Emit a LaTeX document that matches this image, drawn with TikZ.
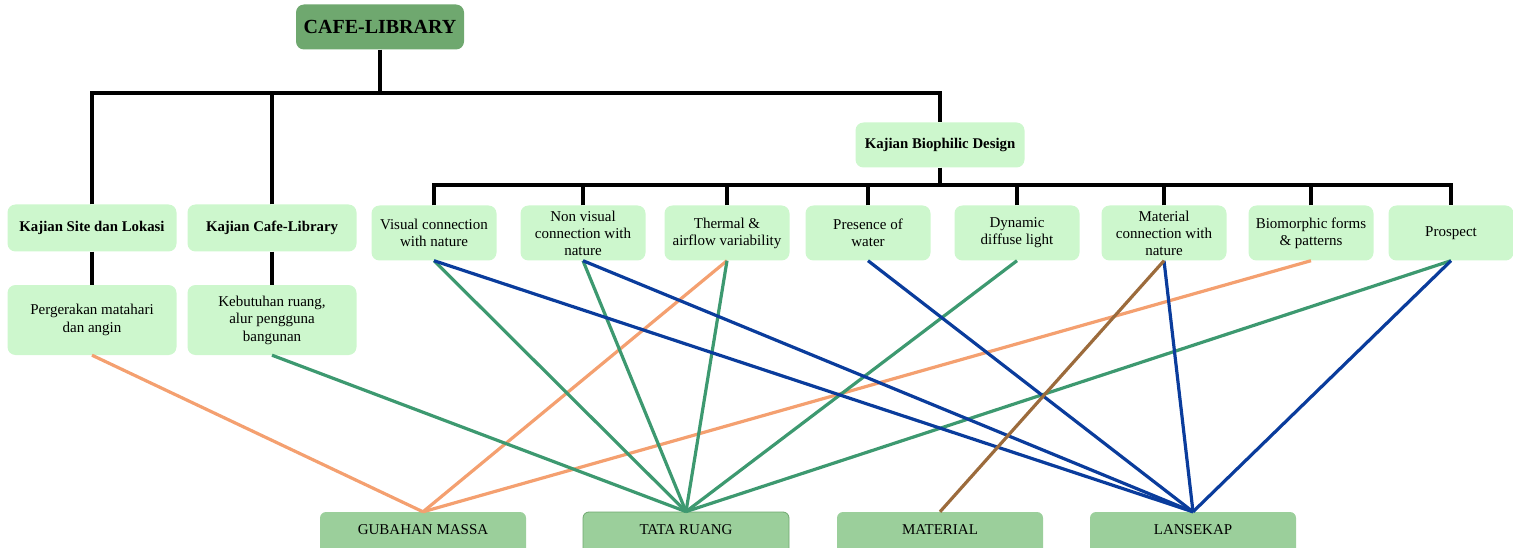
\documentclass[tikz,border=0pt]{standalone}
\usepackage{fontspec}
\setmainfont{Liberation Serif}
\usepackage{tikz}
\definecolor{libGreen1}{HTML}{6FA86F}
\definecolor{libGreen2}{HTML}{9BCF9B}
\definecolor{libMint}{HTML}{CDF7CD}
\definecolor{linkOrange}{HTML}{F4A070}
\definecolor{linkGreen}{HTML}{3D9970}
\definecolor{linkBlue}{HTML}{0A3C9C}
\definecolor{linkBrown}{HTML}{9C6B3C}

\begin{document}
\begin{tikzpicture}[x=1pt,y=-1pt,
    topbox/.style={fill=libGreen1, rounded corners=8pt, minimum width=168pt, minimum height=45pt, font=\fontsize{20}{22}\selectfont\bfseries},
    studybox/.style={fill=libMint, rounded corners=8pt, minimum width=169pt, minimum height=47pt, inner sep=1pt, font=\fontsize{14.8}{17}\selectfont\bfseries},
    notebox/.style={fill=libMint, rounded corners=8pt, minimum width=169pt, minimum height=70pt, inner sep=1pt, align=center, font=\fontsize{15}{17.5}\selectfont},
    aspectbox/.style={fill=libMint, rounded corners=8pt, minimum width=125pt, minimum height=55pt, inner sep=1pt, align=center, font=\fontsize{15}{17}\selectfont},
    resultbox/.style={fill=libGreen2, rounded corners=6pt, minimum width=206pt, minimum height=44pt, text height=10pt, text depth=10pt, font=\fontsize{15}{17}\selectfont},
    tree/.style={line width=3.2pt},
    link/.style={line width=3.2pt}]
    \useasboundingbox (0,0) rectangle (1513,548);
    \clip (0,0) rectangle (1513,548);
    % top of the tree
    \node[topbox] (cafe) at (380,27) {CAFE-LIBRARY};
    \node[studybox] (site) at (92,228) {Kajian Site dan Lokasi};
    \node[studybox] (cafelib) at (272,228) {Kajian Cafe-Library};
    \node[studybox, minimum width=169pt, minimum height=45pt] (bio) at (940,145) {Kajian Biophilic Design};
    \node[notebox] (sun) at (92,320) {Pergerakan matahari\\dan angin};
    \node[notebox] (space) at (272,320) {Kebutuhan ruang,\\alur pengguna\\bangunan};
    % biophilic patterns
    \node[aspectbox] (visual) at (434,233) {Visual connection\\with nature};
    \node[aspectbox] (nonvisual) at (583,233) {Non visual\\connection with\\nature};
    \node[aspectbox] (thermal) at (727,233) {Thermal \&\\airflow variability};
    \node[aspectbox] (water) at (868,233) {Presence of\\water};
    \node[aspectbox] (light) at (1017,233) {Dynamic\\diffuse light};
    \node[aspectbox] (material) at (1164,233) {Material\\connection with\\nature};
    \node[aspectbox] (biomorph) at (1311,233) {Biomorphic forms\\\& patterns};
    \node[aspectbox] (prospect) at (1451,233) {Prospect};
    % results
    \node[resultbox] (massa) at (423,534) {GUBAHAN MASSA};
    \node[resultbox, draw=libGreen1, thick] (ruang) at (686,534) {TATA RUANG};
    \node[resultbox] (mat) at (940,534) {MATERIAL};
    \node[resultbox] (lansekap) at (1193,534) {LANSEKAP};
    % tree lines
    \coordinate (bar1) at (380,93);
    \coordinate (bar2) at (940,185);
    \draw[tree] (cafe.south) -- (bar1);
    \draw[tree] (site.north) -- (site.north |- bar1) -- (bio.north |- bar1) -- (bio.north);
    \draw[tree] (cafelib.north) -- (cafelib.north |- bar1);
    \draw[tree] (site) -- (sun);
    \draw[tree] (cafelib) -- (space);
    \draw[tree] (bio.south) -- (bar2);
    \draw[tree] (visual.north) -- (visual.north |- bar2) -- (prospect.north |- bar2) -- (prospect.north);
    \foreach \n in {nonvisual,thermal,water,light,material,biomorph}
        \draw[tree] (\n.north) -- (\n.north |- bar2);
    % links
    \foreach \n in {sun,thermal,biomorph}
        \draw[link, linkOrange] (\n.south) -- (massa.north);
    \foreach \n in {space,visual,nonvisual,thermal,light,prospect}
        \draw[link, linkGreen] (\n.south) -- (ruang.north);
    \foreach \n in {visual,nonvisual,water,material,prospect}
        \draw[link, linkBlue] (\n.south) -- (lansekap.north);
    \draw[link, linkBrown] (material.south) -- (mat.north);
\end{tikzpicture}
\end{document}
